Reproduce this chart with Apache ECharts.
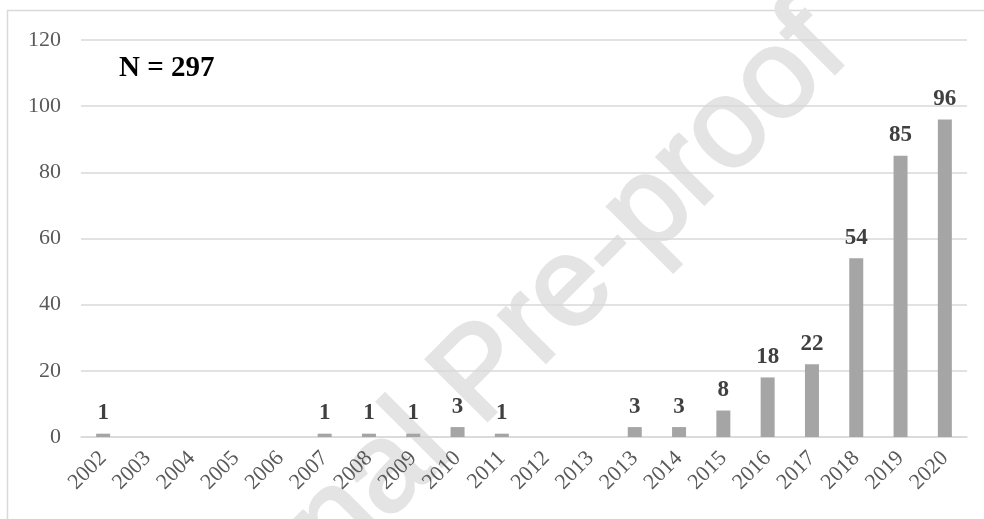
<!DOCTYPE html>
<html>
<head>
<meta charset="utf-8">
<script src="https://cdn.jsdelivr.net/npm/echarts@6/dist/echarts.min.js"></script>
<style>
  html, body { margin: 0; padding: 0; background: #ffffff; }
  #chart { width: 984px; height: 519px; }
</style>
</head>
<body>
<div id="chart"></div>
<script>
// Category labels as printed in the original (note the repeated "2013")
const years = ['2002','2003','2004','2005','2006','2007','2008','2009','2010','2011',
               '2012','2013','2013','2014','2015','2016','2017','2018','2019','2020'];
// Number of publications per year
const counts = [1, 0, 0, 0, 0, 1, 1, 1, 3, 1, 0, 0, 3, 3, 8, 18, 22, 54, 85, 96];
const yTicks = [0, 20, 40, 60, 80, 100, 120];
const annotation = 'N = 297';
const watermark = 'Journal Pre-proof';

const chart = echarts.init(document.getElementById('chart'), null, { renderer: 'canvas' });
const serif = '"Liberation Serif", "Times New Roman", serif';

chart.setOption({
  animation: false,
  backgroundColor: '#ffffff',
  grid: { left: 81, right: 17, top: 40, bottom: 82, containLabel: false },
  xAxis: {
    type: 'category',
    data: years,
    axisLine: { show: true, lineStyle: { color: '#d9d9d9', width: 1.5 } },
    axisTick: { show: false },
    axisLabel: {
      rotate: 45,
      interval: 0,
      margin: 18,
      fontFamily: serif,
      fontSize: 22,
      color: '#595959'
    }
  },
  yAxis: {
    type: 'value',
    min: yTicks[0],
    max: yTicks[yTicks.length - 1],
    interval: 20,
    axisLine: { show: false },
    axisTick: { show: false },
    axisLabel: {
      margin: 20,
      fontFamily: serif,
      fontSize: 22,
      color: '#595959'
    },
    splitLine: { show: true, lineStyle: { color: '#d9d9d9', width: 1.5 } }
  },
  series: [{
    type: 'bar',
    data: counts.map(v => (v === 0 ? null : v)),
    barWidth: 14,
    itemStyle: { color: '#a5a5a5' },
    label: {
      show: true,
      position: 'top',
      distance: 9,
      fontFamily: serif,
      fontWeight: 'bold',
      fontSize: 23,
      color: '#404040'
    },
    z: 3
  }],
  graphic: [
    {
      type: 'rect',
      z: -20,
      silent: true,
      shape: { x: 7.5, y: 10.5, width: 1000, height: 600 },
      style: { fill: 'none', stroke: '#d9d9d9', lineWidth: 1.5 }
    },
    {
      type: 'text',
      z: -10,
      silent: true,
      x: 483,
      y: 376,
      rotation: Math.PI / 4,
      style: {
        text: watermark,
        fontFamily: '"Liberation Sans", Arial, sans-serif',
        fontSize: 126,
        fill: '#e4e4e4',
        stroke: '#e4e4e4',
        lineWidth: 3,
        align: 'center',
        verticalAlign: 'middle'
      }
    },
    {
      type: 'text',
      z: 10,
      left: 119,
      top: 54,
      style: {
        text: annotation,
        fontFamily: serif,
        fontWeight: 'bold',
        fontSize: 29,
        fill: '#000000'
      }
    }
  ]
});
</script>
</body>
</html>
